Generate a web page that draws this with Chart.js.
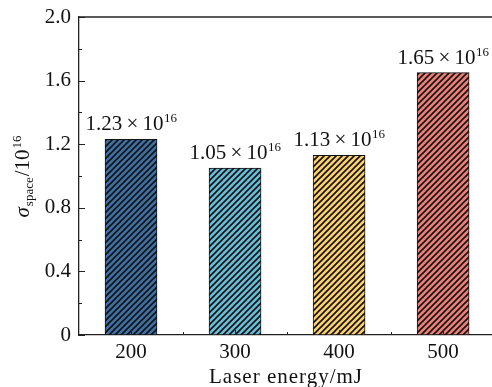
<!DOCTYPE html>
<html lang="en">
<head>
  <meta charset="UTF-8">
  <title>Laser energy bar chart</title>
  <script src="https://cdn.jsdelivr.net/npm/chart.js"></script>
  <style>
    html, body {
      margin: 0;
      padding: 0;
      background: #ffffff;
      overflow: hidden;
    }
    #chart {
      display: block;
    }
  </style>
</head>
<body>
<canvas id="chart" width="492" height="387"></canvas>

<script>
  // data
  const energies = [200, 300, 400, 500];
  const sigmaValues = [1.23, 1.05, 1.13, 1.65];
  const valueLabels = ['1.23', '1.05', '1.13', '1.65'];
  const barColors = ['#3e71a5', '#68bdd8', '#fcd06e', '#ee7f76'];
  const yTicks = [0, 0.4, 0.8, 1.2, 1.6, 2.0];
  const xTicks = [200, 300, 400, 500];

  const SERIF = '"Liberation Serif", "DejaVu Serif", serif';
  const AXIS = '#222';

  function hatch(color) {
    const c = document.createElement('canvas');
    c.width = 6; c.height = 6;
    const g = c.getContext('2d');
    g.fillStyle = color;
    g.fillRect(0, 0, 6, 6);
    g.strokeStyle = '#111';
    g.lineWidth = 1.6;
    g.beginPath();
    g.moveTo(-1, 7); g.lineTo(7, -1);
    g.moveTo(-4, 4); g.lineTo(4, -4);
    g.moveTo(2, 10); g.lineTo(10, 2);
    g.stroke();
    return g.createPattern(c, 'repeat');
  }

  // inward ticks, top frame line, value labels and axis titles
  const decor = {
    id: 'decor',
    afterDatasetsDraw(chart) {
      const { ctx, chartArea: a, scales: { x, y } } = chart;
      ctx.save();
      ctx.strokeStyle = AXIS;
      ctx.lineWidth = 1.3;
      ctx.beginPath();
      ctx.moveTo(a.left, a.top); ctx.lineTo(a.right, a.top);
      ctx.stroke();

      ctx.lineWidth = 1;
      ctx.beginPath();
      for (let v = 0; v <= 2.0001; v += 0.2) {
        const py = Math.round(y.getPixelForValue(v)) + 0.5;
        const major = Math.round(v * 10) % 4 === 0;
        ctx.moveTo(a.left, py); ctx.lineTo(a.left + (major ? 6 : 3), py);
      }
      for (let v = 200; v <= 500; v += 50) {
        const px = Math.round(x.getPixelForValue(v)) + 0.5;
        const major = v % 100 === 0;
        ctx.moveTo(px, a.bottom); ctx.lineTo(px, a.bottom - (major ? 5 : 3));
      }
      ctx.stroke();

      // value labels above the bars
      ctx.fillStyle = '#111';
      ctx.textBaseline = 'alphabetic';
      const meta = chart.getDatasetMeta(0);
      meta.data.forEach((bar, i) => {
        const main = valueLabels[i] + '\u2009\u00d7\u200910';
        ctx.font = '21px ' + SERIF;
        const w1 = ctx.measureText(main).width;
        ctx.font = '13px ' + SERIF;
        const w2 = ctx.measureText('16').width;
        const left = bar.x - (w1 + w2) / 2;
        const base = bar.y - 9;
        ctx.font = '21px ' + SERIF;
        ctx.textAlign = 'left';
        ctx.fillText(main, left, base);
        ctx.font = '13px ' + SERIF;
        ctx.fillText('16', left + w1 + 0.5, base - 8);
      });

      // x title
      ctx.font = '21px ' + SERIF;
      ctx.letterSpacing = '1px';
      ctx.textAlign = 'center';
      ctx.fillText('Laser energy/mJ', 286, 383);
      ctx.letterSpacing = '0px';

      // y title, rotated
      ctx.translate(29, 176);
      ctx.rotate(-Math.PI / 2);
      const parts = [
        { t: '\u03c3', f: 'italic 21px ', dy: 0 },
        { t: 'space', f: '13px ', dy: 4 },
        { t: '/10', f: '21px ', dy: 0 },
        { t: '16', f: '13px ', dy: -8 }
      ];
      let total = 0;
      parts.forEach(p => { ctx.font = p.f + SERIF; p.w = ctx.measureText(p.t).width + 1; total += p.w; });
      let cx = -total / 2;
      ctx.textAlign = 'left';
      parts.forEach(p => {
        ctx.font = p.f + SERIF;
        ctx.fillText(p.t, cx, p.dy);
        cx += p.w;
      });
      ctx.restore();
    }
  };

  new Chart(document.getElementById('chart'), {
    type: 'bar',
    data: {
      datasets: [{
        data: energies.map((e, i) => ({ x: e, y: sigmaValues[i] })),
        backgroundColor: barColors.map(hatch),
        borderColor: '#111',
        borderWidth: 1,
        borderSkipped: false,
        barThickness: 52
      }]
    },
    options: {
      responsive: false,
      animation: false,
      devicePixelRatio: 1,
      layout: { padding: { top: 17, right: 0, left: 0, bottom: 0 } },
      plugins: { legend: { display: false }, tooltip: { enabled: false } },
      scales: {
        x: {
          type: 'linear',
          min: 150,
          max: 547,
          offset: false,
          afterFit: s => { s.height = 52; s.paddingLeft = 0; s.paddingRight = 0; },
          afterBuildTicks: s => { s.ticks = xTicks.map(v => ({ value: v })); },
          grid: { display: false, drawTicks: false, tickLength: 0 },
          border: { display: true, color: AXIS, width: 1.3 },
          ticks: {
            color: '#111',
            padding: 5,
            font: { family: SERIF, size: 21 },
            callback: v => String(v)
          }
        },
        y: {
          min: 0,
          max: 2.0,
          afterFit: s => { s.width = 79; s.paddingTop = 0; s.paddingBottom = 0; },
          afterBuildTicks: s => { s.ticks = yTicks.map(v => ({ value: v })); },
          grid: { display: false, drawTicks: false, tickLength: 0 },
          border: { display: true, color: AXIS, width: 1.3 },
          ticks: {
            color: '#111',
            padding: 8,
            font: { family: SERIF, size: 21 },
            callback: v => v === 0 ? '0' : v.toFixed(1)
          }
        }
      }
    },
    plugins: [decor]
  });
</script>
</body>
</html>
